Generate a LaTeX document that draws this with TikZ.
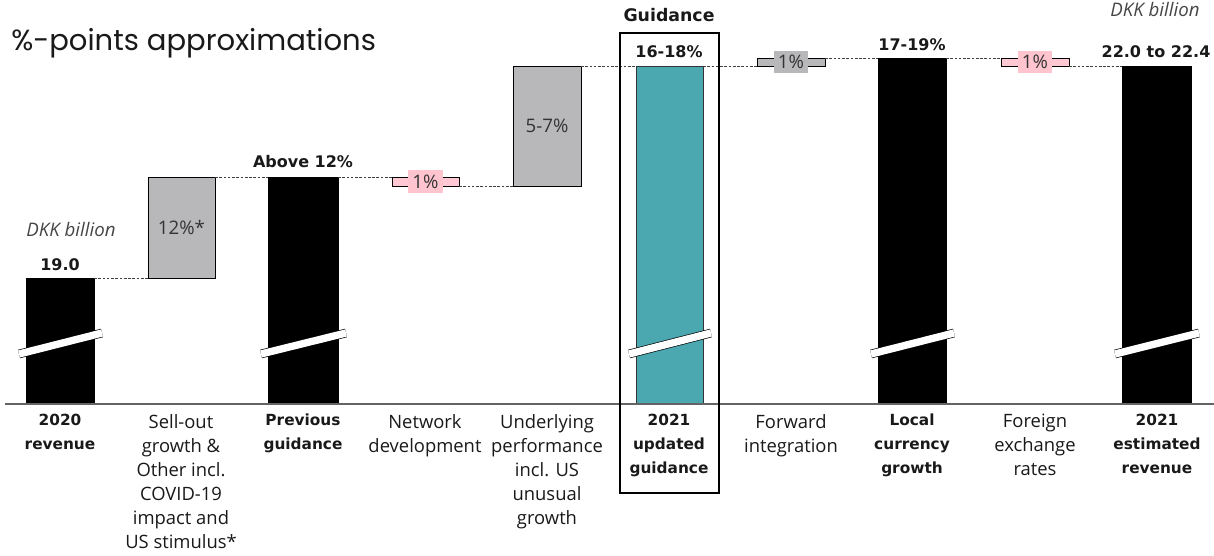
\documentclass[tikz,border=0pt]{standalone}
\usepackage{fontspec}
\setmainfont{Open Sans}
\newfontfamily\dvb{DejaVu Sans}
\newfontfamily\tfont{Poppins}
\usetikzlibrary{fit}
\definecolor{bgray}{RGB}{184,184,186}
\definecolor{bpink}{RGB}{255,200,210}
\definecolor{lpink}{RGB}{255,196,206}
\definecolor{bteal}{RGB}{75,167,176}
\definecolor{txt}{RGB}{25,25,25}
\definecolor{itx}{RGB}{70,70,70}
\definecolor{axisc}{RGB}{100,100,100}
\tikzset{
 barbox/.style={inner sep=0pt, outer sep=0pt, draw=black, line width=0.6pt},
 blackbar/.style={barbox, fill=black},
 graybar/.style={barbox, fill=bgray},
 pinkbar/.style={barbox, fill=bpink},
 tealbar/.style={barbox, fill=bteal, draw=black!80},
 conn/.style={draw=black!75, line width=0.6pt, dash pattern=on 2pt off 1.2pt},
 brk/.style={draw=black, line width=0.5pt, double=white, double distance=5.5pt},
 cat/.style={align=center, anchor=north, text=txt, font=\fontsize{13.8}{18}\selectfont, inner sep=0pt},
 catb/.style={cat, font=\dvb\bfseries\fontsize{11.5}{18}\selectfont},
 val/.style={text=txt, font=\dvb\bfseries\fontsize{12}{14}\selectfont, inner sep=0pt},
 inlab/.style={text=black!80, font=\fontsize{14}{16}\selectfont, inner sep=0pt},
 smlab/.style={text=black!80, font=\fontsize{14}{16}\selectfont, inner sep=1pt, minimum width=26pt, minimum height=17pt},
 unit/.style={text=itx, font=\itshape\fontsize{14}{16}\selectfont, inner sep=0pt},
 frame/.style={draw=black, line width=2.2pt, inner sep=0pt},
}
\begin{document}
\begin{tikzpicture}[x=0.75pt, y=-0.75pt]
\useasboundingbox (0,0) rectangle (1214,556);
% bars
\node[blackbar, fit={(26,278)(94,404)}] (b1) {};
\node[graybar, fit={(148,177)(215,278)}] (b2) {};
\node[blackbar, fit={(268,177)(338,404)}] (b3) {};
\node[pinkbar, fit={(392,177)(459,186)}] (b4) {};
\node[graybar, fit={(513,66)(581,186)}] (b5) {};
\node[tealbar, fit={(636,66)(703,404)}] (b6) {};
\node[graybar, fit={(757,58)(825,66)}] (b7) {};
\node[blackbar, fit={(878,58)(946,404)}] (b8) {};
\node[pinkbar, fit={(1001,58)(1069,66)}] (b9) {};
\node[blackbar, fit={(1122,66)(1191,404)}] (b10) {};
% connectors
\draw[conn] (b1.north east) -- (b2.south west);
\draw[conn] (b2.north east) -- (b3.north west);
\draw[conn] (b3.north east) -- (b4.north west);
\draw[conn] (b4.south east) -- (b5.south west);
\draw[conn] (b5.north east) -- (b6.north west);
\draw[conn] (b6.north east) -- (b7.south west);
\draw[conn] (b7.north east) -- (b8.north west);
\draw[conn] (b8.north east) -- (b9.north west);
\draw[conn] (b9.south east) -- (b10.north west);
% breaks
\draw[brk] (19,354) -- (102,333);
\draw[brk] (261,354) -- (346,333);
\draw[brk] (629,354) -- (711,333);
\draw[brk] (871,354) -- (954,333);
\draw[brk] (1115,354) -- (1199,333);
% axis
\draw[axisc, line width=1.5pt] (5,404) -- (1214,404);
% guidance frame
\node[frame, fit={(620,33)(719,493)}] (fr) {};
% texts
\node[anchor=west, inner sep=0pt, text=txt, font=\tfont\fontsize{21.8}{24}\selectfont] (title) at (11,43) {\%-points approximations};
\node[unit] (u1) at (71,230) {DKK billion};
\node[unit] (u2) at (1155,10) {DKK billion};
\node[val] (v1) at (60,265) {19.0};
\node[inlab] (v2) at (b2.center) {12\%*};
\node[val] (v3) at (303,162) {Above 12\%};
\node[smlab, fill=lpink] (v4) at (b4.center) {1\%};
\node[inlab] (v5) at (b5.center) {5-7\%};
\node[val, font=\dvb\bfseries\fontsize{13}{15}\selectfont] (gd) at (669,15) {Guidance};
\node[val] (v6) at (669,52) {16-18\%};
\node[smlab, fill=bgray] (v7) at (b7.center) {1\%};
\node[val] (v8) at (912,45) {17-19\%};
\node[smlab, fill=lpink] (v9) at (b9.center) {1\%};
\node[val] (v10) at (1156,52) {22.0 to 22.4};
% categories
\node[catb] (c1) at (60,414) {2020\\revenue};
\node[cat] (c2) at (181,414) {Sell-out\\growth \&\\Other incl.\\COVID-19\\impact and\\US stimulus*};
\node[catb] (c3) at (303,414) {Previous\\guidance};
\node[cat] (c4) at (425,414) {Network\\development};
\node[cat] (c5) at (547,414) {Underlying\\performance\\incl. US\\unusual\\growth};
\node[catb] (c6) at (669,414) {2021\\updated\\guidance};
\node[cat] (c7) at (791,414) {Forward\\integration};
\node[catb] (c8) at (912,414) {Local\\currency\\growth};
\node[cat] (c9) at (1035,414) {Foreign\\exchange\\rates};
\node[catb] (c10) at (1157,414) {2021\\estimated\\revenue};
\end{tikzpicture}
\end{document}
